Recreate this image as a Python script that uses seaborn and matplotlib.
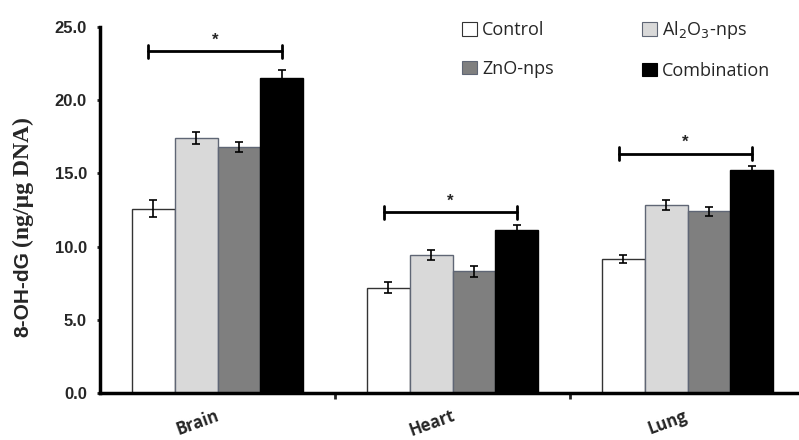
import numpy as np
import pandas as pd
import seaborn as sns
import matplotlib.pyplot as plt
import matplotlib.transforms as mtransforms
from matplotlib.patches import Patch

# values
TISSUES = ['Brain', 'Heart', 'Lung']
GROUPS = ['Control', 'Al$_2$O$_3$-nps', 'ZnO-nps', 'Combination']
MEANS = {
    'Control':     [12.6, 7.2, 9.15],
    'Al2O3':       [17.4, 9.45, 12.85],
    'ZnO':         [16.8, 8.3, 12.4],
    'Combination': [21.5, 11.1, 15.25],
}
ERRS = {
    'Control':     [0.6, 0.35, 0.25],
    'Al2O3':       [0.4, 0.35, 0.35],
    'ZnO':         [0.35, 0.35, 0.28],
    'Combination': [0.55, 0.35, 0.25],
}
SIG_Y = [23.35, 12.35, 16.35]

COLORS = ['#ffffff', '#d9d9d9', '#7f7f7f', '#000000']
EDGES = ['#333333', '#5f6675', '#5f6675', '#000000']

rows = []
for key, label in zip(MEANS, GROUPS):
    for t, v in zip(TISSUES, MEANS[key]):
        rows.append({'tissue': t, 'group': label, 'value': v})
df = pd.DataFrame(rows)

sns.set_style('white')
plt.rcParams['font.family'] = ['Liberation Sans', 'DejaVu Sans']

fig = plt.figure(figsize=(7.99, 4.4), dpi=100)
ax = fig.add_axes([100 / 799, 47 / 440, 1 - 100 / 799, 366 / 440])

sns.barplot(data=df, x='tissue', y='value', hue='group', hue_order=GROUPS,
            palette=COLORS, width=0.73, errorbar=None, ax=ax, legend=False,
            saturation=1)

for cont, key, ec in zip(ax.containers, MEANS, EDGES):
    xs = []
    for bar in cont:
        bar.set_edgecolor(ec)
        bar.set_linewidth(1.0)
        xs.append(bar.get_x() + bar.get_width() / 2)
    ax.errorbar(xs, MEANS[key], yerr=ERRS[key], fmt='none', ecolor='black',
                elinewidth=1.2, capsize=3, capthick=1.2, zorder=5)

# significance brackets from control to combination
ctrl = ax.containers[0]
comb = ax.containers[3]
for i in range(len(TISSUES)):
    x0 = ctrl[i].get_x() + ctrl[i].get_width() / 2 - 0.02
    x1 = comb[i].get_x() + comb[i].get_width() / 2
    y = SIG_Y[i]
    ax.plot([x0, x1], [y, y], color='black', lw=2)
    ax.plot([x0, x0], [y - 0.45, y + 0.45], color='black', lw=2)
    ax.plot([x1, x1], [y - 0.45, y + 0.45], color='black', lw=2)
    ax.text((x0 + x1) / 2, y + 0.25, '*', ha='center', va='bottom',
            fontsize=12, fontweight='bold')

ax.set_xlim(-0.5, 2.474)
ax.set_ylim(0, 25)
ax.set_yticks(np.arange(0, 26, 5))
ax.set_yticklabels([f'{v:.1f}' for v in np.arange(0, 26, 5)],
                   fontsize=12, fontweight='bold')
ax.tick_params(axis='y', direction='out', length=2.5, width=2, left=True, pad=7)

ax.set_xticks([0.5, 1.5], minor=True)
ax.set_xticks(range(len(TISSUES)))
ax.set_xticklabels(TISSUES, rotation=20, fontsize=12, fontweight='bold',
                   family=['Open Sans', 'DejaVu Sans'])
ax.tick_params(axis='x', which='major', length=0, pad=10)
ax.tick_params(axis='x', which='minor', direction='out', length=4, width=2,
               bottom=True)
shift = mtransforms.ScaledTranslation(-0.2, 0, fig.dpi_scale_trans)
for lab in ax.get_xticklabels():
    lab.set_transform(lab.get_transform() + shift)

for side in ['top', 'right']:
    ax.spines[side].set_visible(False)
for side in ['left', 'bottom']:
    ax.spines[side].set_linewidth(2.5)
    ax.spines[side].set_color('black')
ax.set_xlabel('')
ax.set_ylabel('')

fig.text(0.029, 1 - 294 / 440, '8-OH-dG', rotation=90, ha='center',
         va='center', fontsize=15, fontweight='bold',
         family=['Liberation Sans', 'DejaVu Sans'])
fig.text(0.029, 1 - 182 / 440, '(ng/\u00b5g DNA)', rotation=90, ha='center',
         va='center', fontsize=17, fontweight='bold',
         family=['Liberation Serif', 'DejaVu Serif'])

handles = [Patch(facecolor=c, edgecolor=e, linewidth=0.8)
           for c, e in zip(COLORS, EDGES)]
order = [0, 2, 1, 3]
leg = ax.legend([handles[i] for i in order], [GROUPS[i] for i in order],
                ncol=2, frameon=False, loc='upper left',
                bbox_to_anchor=(0.495, 1.065),
                handlelength=0.8, handleheight=0.8, handletextpad=0.3,
                columnspacing=4.9, labelspacing=1.12,
                prop={'family': ['Open Sans', 'DejaVu Sans'], 'size': 13})

fig.savefig('out.png', dpi=100)
